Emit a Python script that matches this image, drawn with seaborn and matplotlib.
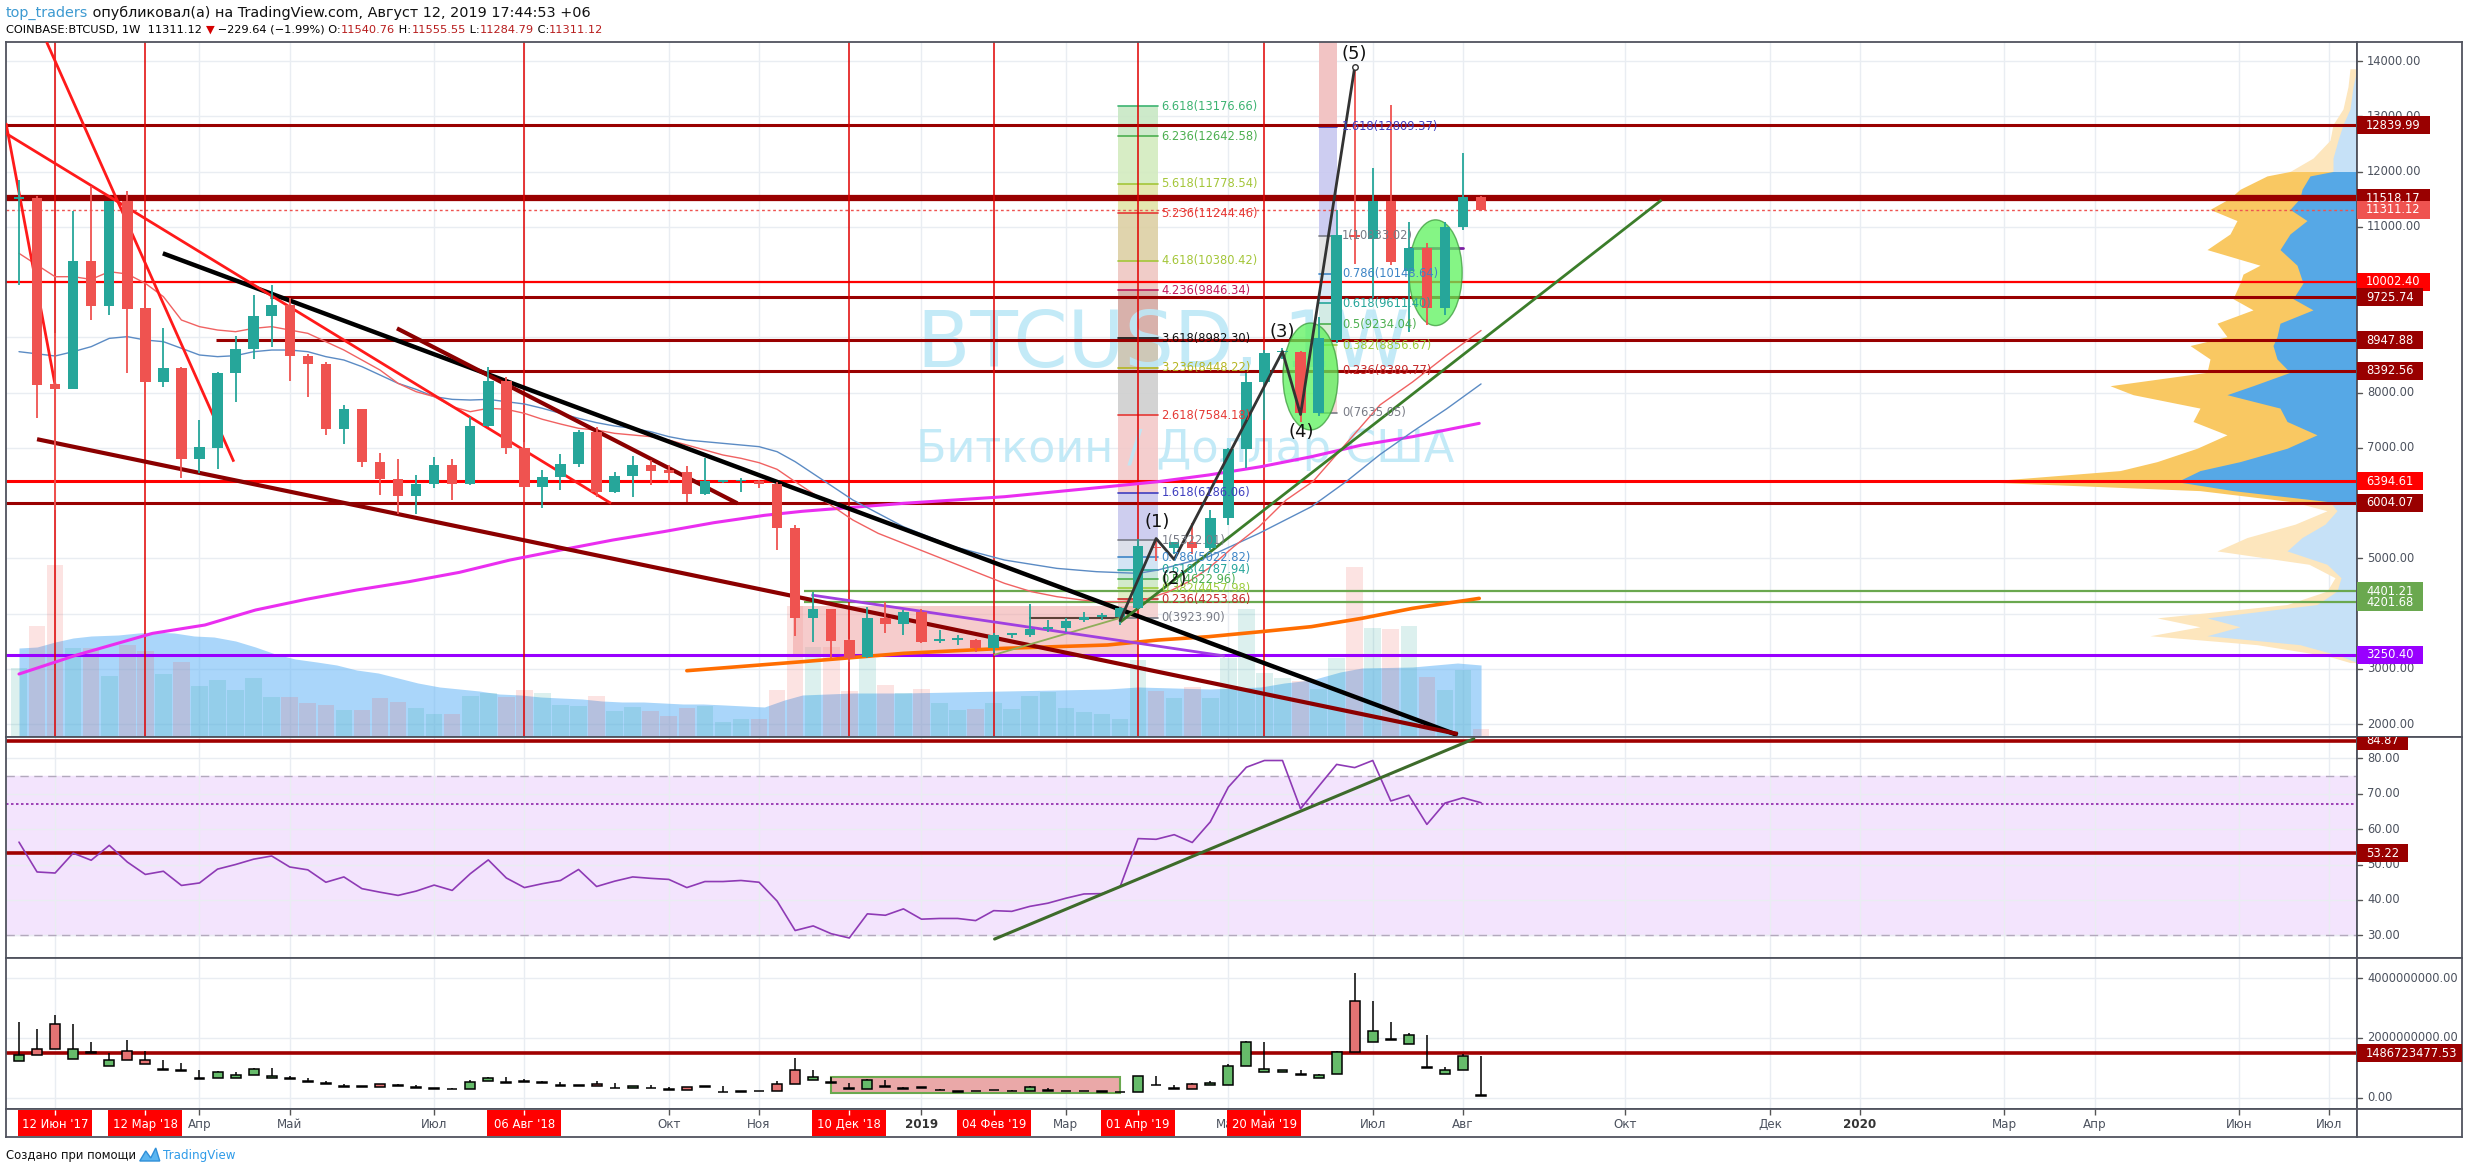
import numpy as np
import pandas as pd
import matplotlib
matplotlib.use("Agg")
import matplotlib.pyplot as plt
import matplotlib.transforms as mtrans
from matplotlib.patches import Rectangle, Ellipse, Polygon
import seaborn as sns

sns.set_theme(style="white")
plt.rcParams["font.family"] = ["DejaVu Sans"]
plt.rcParams["axes.unicode_minus"] = False

# ------------------------------------------------------------------ data
# weekly candles, index 0 = week of 22 Jan 2018 ... index 81 = 12 Aug 2019
opens = [11500, 11526, 8148, 8057, 10380, 9572, 11466, 9523, 8184, 8437,
         6790, 7002, 8359, 8781, 9385, 9584, 8667, 8510, 7333, 7695,
         6748, 6428, 6133, 6344, 6688, 6344, 7394, 8208, 7002, 6296,
         6465, 6700, 7291, 6205, 6489, 6688, 6597, 6567, 6157, 6387,
         6390, 6399, 6338, 5541, 3913, 4075, 3520, 3219, 3913, 3810,
         4021, 3510, 3520, 3520, 3370, 3611, 3611, 3713, 3743, 3882,
         3943, 3943, 4093, 5200, 5184, 5288, 5184, 5737, 6980, 8189,
         8730, 8742, 7636, 8949, 10849, 10779, 11470, 10193, 10607, 9536,
         10987, 11540.76]
highs = [11846, 11560, 9083, 11285, 11737, 11466, 11653, 9855, 9161, 8470,
         7502, 8380, 9022, 9765, 9946, 9704, 8700, 8560, 7774, 7710,
         6899, 6800, 6507, 6839, 6790, 7563, 8468, 8286, 7100, 6597,
         6887, 7321, 7382, 6567, 6851, 6778, 6688, 6670, 6809, 6416,
         6447, 6420, 6380, 5600, 4395, 4090, 3530, 4124, 4214, 4063,
         4081, 3701, 3611, 3530, 3641, 3653, 4172, 3882, 3912, 4033,
         4003, 4124, 5357, 5357, 5300, 5633, 5875, 7000, 8362, 8776,
         8800, 8760, 9363, 11298, 13888, 12057, 13197, 11090, 10710, 11090,
         12334, 11555.55]
lows = [9946, 7532, 5873, 8057, 9312, 9403, 8359, 7321, 8106, 6447,
        6537, 6609, 7822, 8600, 8830, 8214, 7925, 7231, 7068, 6658,
        6145, 5801, 5801, 6266, 6055, 6330, 7380, 6887, 6024, 5904,
        6236, 6658, 6115, 6175, 6115, 6326, 6368, 6024, 6140, 6356,
        6205, 6266, 5149, 3600, 3490, 3188, 3128, 3200, 3641, 3611,
        3472, 3472, 3430, 3309, 3279, 3550, 3569, 3671, 3671, 3852,
        3882, 3792, 4080, 4942, 5080, 5080, 5149, 5598, 6635, 7498,
        8600, 7464, 7567, 8900, 10330, 9709, 10300, 9087, 9225, 9398,
        10950, 11284.79]
closes = [11530, 8136, 8057, 10380, 9572, 11466, 9511, 8184, 8437, 6790,
          7020, 8359, 8781, 9385, 9584, 8667, 8510, 7333, 7695, 6748,
          6428, 6133, 6344, 6688, 6344, 7394, 8208, 7002, 6296, 6465,
          6700, 7291, 6205, 6489, 6688, 6585, 6549, 6157, 6399, 6395,
          6400, 6338, 5541, 3913, 4075, 3508, 3188, 3913, 3810, 4021,
          3490, 3530, 3526, 3370, 3611, 3620, 3713, 3761, 3870, 3943,
          3950, 4093, 5219, 5180, 5288, 5184, 5737, 6980, 8189, 8707,
          8745, 7636, 8983, 10849, 10813, 11470, 10365, 10607, 9536, 10987,
          11540, 11311.12]

# volume overlay in the price pane (relative units)
vol_main = [69, 111, 172, 89, 89, 61, 92, 86, 63, 75,
            51, 57, 47, 59, 40, 40, 34, 32, 27, 27,
            39, 35, 29, 23, 23, 41, 44, 40, 47, 44,
            32, 31, 41, 26, 30, 26, 21, 29, 31, 15,
            18, 18, 47, 131, 90, 90, 46, 79, 52, 44,
            48, 34, 27, 28, 34, 28, 41, 45, 29, 25,
            23, 18, 77, 46, 39, 50, 39, 79, 128, 64,
            59, 56, 48, 79, 170, 109, 108, 111, 60, 47,
            67, 8]
vma_x = [0, 1, 2, 3, 4, 5.5, 6.6, 7.4, 8.6, 9.7, 10.8, 12, 13.1, 14.2, 15.3,
         16.5, 17.6, 18.7, 19.9, 21, 22.1, 23.3, 24.4, 25.5, 26.6, 27.8, 28.9,
         30, 31.2, 32.3, 33.4, 34.6, 35.7, 36.8, 37.9, 39.1, 40.2, 41.3, 42.4,
         43.4, 46.2, 49, 51.8, 54.6, 57.5, 60.3, 62, 64, 66, 68.8, 70.1, 71.6,
         73.2, 74.4, 77.2, 79.7, 81]
vma_h = [89, 90, 95, 99, 101, 102, 104, 105, 104, 101, 100, 96, 90, 83, 78,
         75, 72, 67, 64, 59, 54, 50, 48, 46, 43, 42, 40, 39, 38, 36, 35, 35,
         34, 33, 33, 32, 31, 30, 37, 42, 44, 44, 45, 46, 47, 48, 50, 49, 48,
         50, 54, 57, 65, 69, 70, 74, 72]

# RSI
rsi = [56.3, 47.9, 47.6, 53.2, 51.2, 55.4, 50.7, 47.2, 48.1, 44.1,
       44.8, 48.7, 50.0, 51.5, 52.4, 49.3, 48.5, 45.0, 46.5, 43.2,
       42.2, 41.3, 42.5, 44.2, 42.7, 47.4, 51.3, 46.2, 43.5, 44.6,
       45.5, 48.6, 43.8, 45.3, 46.5, 46.1, 45.8, 43.5, 45.2, 45.2,
       45.5, 45.0, 39.7, 31.4, 32.7, 30.5, 29.3, 36.1, 35.7, 37.5,
       34.6, 34.8, 34.8, 34.2, 37.0, 36.8, 38.2, 39.1, 40.5, 41.7,
       41.8, 43.7, 57.3, 57.1, 58.4, 56.2, 62.0, 71.8, 77.4, 79.3,
       79.3, 65.7, 72.0, 78.2, 77.3, 79.3, 67.9, 69.5, 61.3, 67.3,
       68.8, 67.4]

# volume candles (billions)
vol_o = [1.22, 1.62, 2.46, 1.29, 1.52, 1.06, 1.58, 1.26, 0.94, 0.91,
         0.64, 0.66, 0.66, 0.76, 0.66, 0.64, 0.54, 0.46, 0.38, 0.36,
         0.46, 0.41, 0.34, 0.31, 0.29, 0.29, 0.56, 0.50, 0.54, 0.50,
         0.41, 0.41, 0.48, 0.32, 0.32, 0.32, 0.27, 0.36, 0.37, 0.19,
         0.21, 0.22, 0.47, 0.92, 0.59, 0.51, 0.31, 0.31, 0.38, 0.31,
         0.33, 0.25, 0.21, 0.22, 0.25, 0.22, 0.23, 0.23, 0.22, 0.22,
         0.20, 0.19, 0.20, 0.42, 0.30, 0.48, 0.43, 0.42, 1.06, 0.86,
         0.86, 0.78, 0.67, 0.79, 3.22, 1.86, 1.94, 1.79, 1.01, 0.79,
         0.92, 0.08]
vol_h = [2.53, 2.29, 2.78, 2.47, 1.87, 1.50, 1.92, 1.58, 1.26, 1.16,
         0.92, 0.89, 0.86, 1.00, 1.00, 0.72, 0.66, 0.57, 0.48, 0.40,
         0.46, 0.46, 0.42, 0.33, 0.33, 0.59, 0.70, 0.70, 0.64, 0.57,
         0.53, 0.43, 0.57, 0.50, 0.40, 0.42, 0.35, 0.36, 0.39, 0.39,
         0.23, 0.24, 0.56, 1.33, 0.92, 0.70, 0.50, 0.62, 0.59, 0.36,
         0.38, 0.30, 0.24, 0.24, 0.26, 0.25, 0.39, 0.34, 0.23, 0.23,
         0.21, 0.20, 0.74, 0.72, 0.42, 0.50, 0.56, 1.13, 1.89, 1.87,
         0.94, 0.92, 0.80, 1.55, 4.17, 3.23, 2.53, 2.18, 2.09, 1.03,
         1.48, 1.39]
vol_l = [1.22, 1.42, 1.62, 1.29, 1.50, 1.06, 1.26, 1.12, 0.94, 0.91,
         0.64, 0.66, 0.66, 0.76, 0.66, 0.64, 0.54, 0.46, 0.38, 0.36,
         0.36, 0.41, 0.34, 0.31, 0.29, 0.29, 0.56, 0.50, 0.54, 0.50,
         0.41, 0.41, 0.41, 0.32, 0.32, 0.32, 0.27, 0.27, 0.37, 0.19,
         0.21, 0.22, 0.23, 0.48, 0.59, 0.51, 0.31, 0.31, 0.38, 0.31,
         0.33, 0.25, 0.21, 0.22, 0.25, 0.22, 0.23, 0.23, 0.22, 0.22,
         0.20, 0.19, 0.20, 0.42, 0.30, 0.29, 0.43, 0.42, 1.06, 0.86,
         0.86, 0.78, 0.67, 0.79, 1.53, 1.86, 1.94, 1.79, 1.01, 0.79,
         0.92, 0.06]
vol_c = [1.42, 1.42, 1.62, 1.62, 1.50, 1.26, 1.26, 1.12, 0.95, 0.92,
         0.65, 0.86, 0.76, 0.98, 0.72, 0.65, 0.55, 0.47, 0.39, 0.37,
         0.36, 0.42, 0.35, 0.32, 0.30, 0.53, 0.68, 0.51, 0.55, 0.51,
         0.42, 0.42, 0.41, 0.33, 0.40, 0.33, 0.28, 0.27, 0.38, 0.20,
         0.22, 0.23, 0.23, 0.48, 0.69, 0.52, 0.32, 0.59, 0.39, 0.32,
         0.34, 0.26, 0.22, 0.23, 0.26, 0.23, 0.37, 0.24, 0.22, 0.22,
         0.21, 0.20, 0.72, 0.43, 0.31, 0.29, 0.51, 1.06, 1.87, 0.98,
         0.92, 0.79, 0.78, 1.53, 1.53, 2.22, 1.95, 2.09, 1.02, 0.92,
         1.39, 0.07]

# moving averages (index, price)
red_ma = [(0, 10519), (2, 10096), (3, 10096), (4, 10048), (5, 10187), (6, 10145), (7, 9976),
          (8, 9735), (9, 9312), (10, 9192), (11, 9131), (12, 9101), (13, 9161), (14, 9192),
          (15, 9131), (16, 9071), (17, 8920), (18, 8769), (19, 8588), (20, 8407), (21, 8166),
          (22, 8015), (23, 7925), (24, 7744), (25, 7653), (26, 7714), (27, 7696), (28, 7623),
          (29, 7515), (30, 7430), (31, 7352), (32, 7321), (33, 7261), (34, 7231), (35, 7201),
          (36, 7140), (37, 7050), (38, 6959), (39, 6869), (40, 6809), (41, 6730), (42, 6610),
          (43, 6386), (45.1, 5934), (46.2, 5692), (47.6, 5451), (49, 5270), (50.4, 5089),
          (51.8, 4908), (53.2, 4727), (54.6, 4546), (56.1, 4395), (57.5, 4305), (58.9, 4244),
          (60, 4214), (61.1, 4214), (62.3, 4244), (63.7, 4395), (64.8, 4576), (65.9, 4817),
          (67.3, 5210), (68.7, 5571), (70.2, 6054), (71.7, 6393), (73.55, 7084), (75.4, 7775),
          (77.2, 8189), (79.1, 8673), (81, 9122)]
blue_ma = [(0, 8739), (2, 8661), (3, 8739), (4, 8830), (5, 8980), (6, 9011), (7, 8950),
           (8, 8920), (9, 8800), (10, 8679), (11, 8649), (12, 8667), (13, 8739), (14, 8769),
           (15, 8769), (16, 8739), (17, 8649), (18, 8588), (19, 8468), (20, 8317), (21, 8166),
           (22, 8057), (23, 7925), (24, 7876), (25, 7864), (26, 7876), (27, 7834), (28, 7792),
           (29, 7714), (30, 7623), (31, 7533), (32, 7454), (33, 7394), (34, 7351), (35, 7291),
           (36, 7201), (37, 7140), (38, 7110), (39, 7080), (40, 7050), (41, 7020), (42, 6929),
           (43, 6748), (46.2, 6054), (49, 5571), (51.8, 5210), (54.6, 4968), (57.5, 4817),
           (59.7, 4757), (62, 4727), (63.1, 4787), (65.9, 5028), (68.7, 5451), (71.6, 5933),
           (73.55, 6393), (75.4, 6877), (77.2, 7291), (79.1, 7706), (81, 8155)]
magenta_ma = [(0, 2905), (3.2, 3249), (7.4, 3641), (10.3, 3792), (13.1, 4063), (15.9, 4256),
              (18.7, 4425), (21.6, 4576), (24.4, 4745), (27.2, 4968), (30, 5149), (32.9, 5330),
              (35.7, 5481), (38.5, 5644), (41.3, 5777), (43.4, 5850), (49, 5994), (54.6, 6114),
              (60.3, 6295), (63.1, 6386), (65.9, 6507), (68.8, 6657), (71.6, 6838), (74.4, 7050),
              (77.2, 7200), (80.9, 7442)]
orange_ma = [(37, 2965), (43.4, 3128), (49, 3279), (54.6, 3370), (60.3, 3430), (63.1, 3520),
             (65.9, 3581), (68.8, 3671), (71.6, 3762), (74.4, 3913), (77.2, 4093), (80.9, 4274)]

# drawn trend lines (index, price)
trend_black = [(7.97, 10519), (79.7, 1800)]
trend_maroon_long = [(1.0, 7155), (79.7, 1820)]
trend_maroon_short = [(20.94, 9161), (39.8, 5994)]
trend_red_a = [(-0.72, 12689), (32.8, 5994)]
trend_red_b = [(1.53, 14344), (11.9, 6748)]
trend_red_c = [(-0.72, 12877), (2.0, 8136)]
trend_green = [(61.0, 3842), (91.0, 11484)]
trend_olive = [(54.0, 3250), (61.1, 3930)]
trend_purple = [(43.9, 4335), (66.8, 3231)]
rsi_trend = [(54.05, 29.0), (80.6, 85.4)]

wave_x = [61.0, 63.0, 64.0, 70.0, 71.0, 74.0]
wave_y = [3871, 5357, 4977, 8742, 7602, 13888]
wave_labels = ["(1)", "(2)", "(3)", "(4)", "(5)"]
wave_label_x = [63.07, 64.0, 70.0, 71.06, 74.0]
wave_label_y = [5650, 4630, 9090, 7290, 14130]

# horizontal levels
hl_price = [12839.99, 11518.17, 10002.40, 9725.74, 8947.88, 8392.56, 6394.61, 6004.07,
            4401.21, 4201.68, 3250.40]
hl_color = ['#990000', '#990000', '#ff0000', '#990000', '#990000', '#990000', '#ff0000',
            '#990000', '#6aa84f', '#6aa84f', '#9900ff']
hl_width = [2.2, 4.5, 1.6, 2.2, 2.2, 2.2, 2.2, 2.2, 1.6, 1.6, 2.2]
hl_start = [-0.72, -0.72, -0.72, 13.9, 10.9, 26.0, -0.72, -0.72, 43.5, 43.5, -0.72]
last_price = 11311.12

# fib extension 1
fib1_levels = [3923.90, 4253.86, 4457.98, 4622.96, 4787.94, 5022.82, 5322.01, 6186.06, 7584.18,
               8448.22, 8982.30, 9846.34, 10380.42, 11244.46, 11778.54, 12642.58, 13176.66]
fib1_ratios = ['0', '0.236', '0.382', '0.5', '0.618', '0.786', '1', '1.618', '2.618', '3.236',
               '3.618', '4.236', '4.618', '5.236', '5.618', '6.236', '6.618']
fib1_colors = ['#787b86', '#c62828', '#9ccc3c', '#4caf50', '#26a69a', '#3d85c6', '#787b86',
               '#3f3fbf', '#e53935', '#b5b520', '#111111', '#c2185b', '#a4c639', '#e53935',
               '#a4c639', '#4caf50', '#3cb371']
fib1_bands = ['#f4d0cf', '#dcebc0', '#cde8c5', '#c4e3da', '#cfe2f3', '#d9dde8', '#c9c9ee',
              '#f3c9c9', '#cfcfcf', '#c9c2b0', '#d4a9a2', '#efc7c2', '#ddd0a4', '#e2e5a8',
              '#d3ebbf', '#c8e8c5']
# fib retracement 2
fib2_levels = [7635.05, 8389.77, 8856.67, 9234.04, 9611.40, 10148.64, 10833.02, 12809.37]
fib2_ratios = ['0', '0.236', '0.382', '0.5', '0.618', '0.786', '1', '1.618']
fib2_colors = ['#787b86', '#c62828', '#9ccc3c', '#4caf50', '#26a69a', '#3d85c6', '#787b86',
               '#3f3fbf']
fib2_bands = ['#f6d5d5', '#e6efc8', '#d5ecd0', '#cfe9e3', '#d6e6f5', '#e3e3e3', '#c8c8f0']

# volume profile (price, total, blue part) in relative units
vp_price = [13859, 13536, 13132, 12849, 12566, 12243, 12001, 11920, 11678, 11516, 11314, 11112,
            10870, 10587, 10304, 10143, 9981, 9698, 9496, 9254, 9011, 8850, 8607, 8365, 8123,
            7961, 7718, 7476, 7234, 6991, 6749, 6587, 6385, 6224, 6022, 5860, 5617, 5375, 5133,
            4891, 4648, 4406, 4163, 3921, 3760, 3598, 3436, 3234, 3113]
vp_total = [7, 9, 14, 24, 27, 44, 67, 90, 117, 127, 147, 120, 127, 150, 97, 114, 117, 124, 104,
            140, 130, 167, 147, 150, 247, 224, 157, 164, 130, 160, 200, 237, 377, 157, 64, 30,
            62, 110, 140, 48, 22, 30, 70, 200, 157, 207, 100, 30, 7]
vp_blue = [0, 4, 7, 14, 19, 24, 24, 47, 55, 57, 67, 50, 67, 77, 60, 57, 54, 64, 44, 77, 80, 84,
           80, 67, 104, 130, 77, 70, 40, 70, 117, 157, 180, 124, 27, 20, 32, 55, 70, 30, 16, 20,
           40, 150, 117, 150, 57, 17, 0]
va_low, va_high = 5990, 12000

# axes labels
grid_ticks = [2, 10, 15, 23, 28, 36, 41, 50, 58, 67, 75, 80, 89, 97, 102, 110, 115, 123, 128]
month_ticks = [10, 15, 23, 36, 41, 50, 58, 67, 75, 80, 89, 97, 102, 110, 115, 123, 128]
month_labels = ['Апр', 'Май', 'Июл', 'Окт', 'Ноя', '2019', 'Мар', 'Май', 'Июл',
                'Авг', 'Окт', 'Дек', '2020', 'Мар', 'Апр', 'Июн', 'Июл']
mark_idx = [2, 7, 28, 46, 54, 62, 69]
mark_labels = ["12 Июн '17", "12 Мар '18", "06 Авг '18", "10 Дек '18", "04 Фев '19",
               "01 Апр '19", "20 Май '19"]
price_ticks = [2000, 3000, 5000, 6000, 7000, 8000, 9000, 10000, 11000, 12000, 13000, 14000]
price_marks = [12839.99, 11518.17, 11311.12, 10002.40, 9725.74, 8947.88, 8392.56, 6394.61,
               6004.07, 4401.21, 4201.68, 3250.40]
price_mark_colors = ['#990000', '#990000', '#ef5350', '#ff0000', '#990000', '#990000', '#990000',
                     '#ff0000', '#990000', '#6aa84f', '#6aa84f', '#9900ff']
rsi_ticks = [30, 40, 50, 60, 70, 80]
rsi_marks = [84.87, 53.22]
vol_ticks = [0, 2, 4]
vol_mark = 1.48672347753

# ------------------------------------------------------------------ figure
W, H = 2468, 1174
fig = plt.figure(figsize=(W / 100, H / 100), dpi=100)
fig.patch.set_facecolor("white")
BORDER = '#50535e'
GRID = '#e9edf2'
TXT = '#4c525e'
UP, DN = '#26a69a', '#ef5350'


def px_axes(x0, y0, x1, y1):
    return fig.add_axes([x0 / W, 1 - y1 / H, (x1 - x0) / W, (y1 - y0) / H])


L, R = 6, 2357
ax = px_axes(L, 42, R, 737)
ax_r = px_axes(L, 737, R, 958)
ax_v = px_axes(L, 958, R, 1109)
ax_t = px_axes(L, 1109, R, 1137)
XL = (-0.72, 129.53)
PLIM = (1765, 14344)
RLIM = (23.66, 85.92)
VLIM = (-0.367, 4.667)
for a in (ax, ax_r, ax_v, ax_t):
    a.set_facecolor('white')
    for s in a.spines.values():
        s.set_color(BORDER)
        s.set_linewidth(1.3)

idx = np.arange(len(closes))

# ---------------- grid
for a in (ax, ax_r, ax_v):
    for g in grid_ticks:
        a.axvline(g, color=GRID, lw=1, zorder=0.2)
for p in range(2000, 15000, 1000):
    ax.axhline(p, color=GRID, lw=1, zorder=0.2)
for r in rsi_ticks:
    ax_r.axhline(r, color=GRID, lw=1, zorder=0.2)
for v in vol_ticks:
    ax_v.axhline(v, color=GRID, lw=1, zorder=0.2)

# ---------------- main: volume overlay
PANE_H = 695.0
blend_xy = mtrans.blended_transform_factory(ax.transData, ax.transAxes)
ax.fill_between(vma_x, 0, np.array(vma_h) / PANE_H, transform=blend_xy,
                color='#64b5f6', alpha=0.55, lw=0, zorder=0.9)
vcols = [UP if c >= o else DN for o, c in zip(opens, closes)]
ax.bar(idx, np.array(vol_main) / PANE_H, width=0.92, bottom=0, color=vcols, alpha=0.16,
       transform=blend_xy, zorder=1.0, linewidth=0)

# ---------------- volume profile
blend_yx = mtrans.blended_transform_factory(ax.transAxes, ax.transData)
PW = float(R - L)
vp_p = np.array(vp_price, float)[::-1]
vp_t = np.array(vp_total, float)[::-1]
vp_b = np.array(vp_blue, float)[::-1]
fine = np.sort(np.unique(np.concatenate([vp_p, [va_low, va_high]])))
ft = np.interp(fine, vp_p, vp_t)
fb = np.interp(fine, vp_p, vp_b)
in_va = (fine >= va_low) & (fine <= va_high)
out_lo = fine <= va_low
out_hi = fine >= va_high
for mask, cy, cb in [(out_lo, '#fde6bd', '#c6e1f7'), (out_hi, '#fde6bd', '#c6e1f7'),
                     (in_va, '#f9c862', '#56a8e6')]:
    ax.fill_betweenx(fine[mask], 1 - ft[mask] / PW, 1, transform=blend_yx, color=cy, lw=0,
                     zorder=1.7)
    ax.fill_betweenx(fine[mask], 1 - fb[mask] / PW, 1, transform=blend_yx, color=cb, lw=0,
                     zorder=1.75)

# ---------------- fib columns
for i, c in enumerate(fib1_bands):
    ax.add_patch(Rectangle((60.9, fib1_levels[i]), 2.2, fib1_levels[i + 1] - fib1_levels[i],
                           fc=c, ec='none', alpha=0.9, zorder=1.5))
for v, r, c in zip(fib1_levels, fib1_ratios, fib1_colors):
    ax.plot([60.9, 63.1], [v, v], color=c, lw=1.2, zorder=1.6)
    ax.text(63.3, v, f"{r}({v:.2f})", color=c, fontsize=8.3, va='center', ha='left', zorder=6)
ax.add_patch(Rectangle((72.0, fib2_levels[-1]), 1.0, PLIM[1] - fib2_levels[-1], fc='#f2c4c4',
                       ec='none', zorder=1.5))
for i, c in enumerate(fib2_bands):
    ax.add_patch(Rectangle((72.0, fib2_levels[i]), 1.0, fib2_levels[i + 1] - fib2_levels[i],
                           fc=c, ec='none', alpha=0.9, zorder=1.5))
for v, r, c in zip(fib2_levels, fib2_ratios, fib2_colors):
    ax.plot([72.0, 73.0], [v, v], color=c, lw=1.2, zorder=1.6)
    ax.text(73.3, v, f"{r}({v:.2f})", color=c, fontsize=8.3, va='center', ha='left', zorder=6)

# pink range box
ax.add_patch(Rectangle((42.9, 3250), 19.1, 880, fc='#ef9a9a', ec='none', alpha=0.5, zorder=1.55))
ax.plot([56, 61], [3923.9, 3923.9], color='#5d4037', lw=1.5, zorder=2)

# watermark
ax.text(63.4, 8860, "BTCUSD, 1W", fontsize=56, color='#bde8f7', ha='center', va='center',
        zorder=1.58, alpha=0.9)
ax.text(64.6, 6977, "Биткоин / Доллар США", fontsize=32, color='#bde8f7', ha='center',
        va='center', zorder=1.58, alpha=0.9)

# ---------------- horizontal levels & vertical markers
for p, c, w, s in zip(hl_price, hl_color, hl_width, hl_start):
    ax.plot([s, XL[1]], [p, p], color=c, lw=w, zorder=2, solid_capstyle='butt')
ax.axhline(last_price, color='#ef5350', lw=1, ls=(0, (2, 2)), zorder=2)
ax.plot([77.0, 80.0], [10621, 10621], color='#7b1fa2', lw=2, zorder=2)
for m in mark_idx:
    ax.axvline(m, color='#e00000', lw=1.1, zorder=2)

# ---------------- moving averages (seaborn)
for pts, col, lw in [(magenta_ma, '#ea2ef0', 2.2), (orange_ma, '#ff6d00', 2.6),
                     (blue_ma, '#5b8bc4', 1.0), (red_ma, '#f06262', 1.0)]:
    xs, ys = zip(*pts)
    sns.lineplot(x=list(xs), y=list(ys), ax=ax, color=col, linewidth=lw, zorder=2.5,
                 legend=False)

# ---------------- trend lines
for pts, col, lw in [(trend_black, '#000000', 3.2), (trend_maroon_long, '#8b0000', 3.0),
                     (trend_maroon_short, '#8b0000', 3.0), (trend_red_a, '#ff1a1a', 2.0),
                     (trend_red_b, '#ff1a1a', 2.0), (trend_red_c, '#ff1a1a', 2.0),
                     (trend_green, '#3b7d2a', 2.0), (trend_olive, '#8fae5a', 1.3),
                     (trend_purple, '#a040e0', 2.0)]:
    xs, ys = zip(*pts)
    ax.plot(xs, ys, color=col, lw=lw, zorder=3, solid_capstyle='butt')

# ---------------- ellipses
for cx, cy, ew, eh in [(71.55, 8290, 3.05, 1935), (78.48, 10168, 2.95, 1914)]:
    ax.add_patch(Ellipse((cx, cy), ew, eh, fc='#5cf25c', ec='#3c9a3c', lw=1, alpha=0.75,
                         zorder=3.2))

# ---------------- candles
ccols = np.array([UP if c >= o else DN for o, c in zip(opens, closes)])
ax.vlines(idx, lows, highs, colors=ccols, lw=1.3, zorder=4)
bot = np.minimum(opens, closes)
hgt = np.maximum(np.abs(np.array(closes) - np.array(opens)), 30)
ax.bar(idx, hgt, width=0.58, bottom=bot, color=ccols, linewidth=0, zorder=4.1)

# ---------------- Elliott wave
sns.lineplot(x=wave_x, y=wave_y, ax=ax, sort=False, color='#333333', linewidth=2.0, zorder=5,
             legend=False)
ax.plot([wave_x[-1]], [wave_y[-1]], marker='o', ms=4, mfc='white', mec='#333', zorder=5.1)
for t, x, y in zip(wave_labels, wave_label_x, wave_label_y):
    ax.text(x, y, t, fontsize=13, color='#111', ha='center', va='center', zorder=6)

# ---------------- RSI pane
ax_r.axhspan(30, 75, color='#f3e4fd', zorder=0.1)
for lvl in (30, 75):
    ax_r.axhline(lvl, color='#b3a9bd', lw=1, ls=(0, (6, 4)), zorder=0.5)
ax_r.axhline(67, color='#8e24aa', lw=1.2, ls=(0, (1.5, 1.5)), zorder=0.6)
for m in rsi_marks:
    ax_r.axhline(m, color='#a00000', lw=2.6, zorder=1)
sns.lineplot(x=idx, y=rsi, ax=ax_r, color='#8e3ab5', linewidth=1.2, zorder=2, legend=False)
xs, ys = zip(*rsi_trend)
ax_r.plot(xs, ys, color='#3d6b2a', lw=2.2, zorder=3)

# ---------------- volume candles pane
ax_v.add_patch(Rectangle((45, 0.17), 16, 0.53, fc='#eaa8a8', ec='#6aa84f', lw=1.5, zorder=0.8))
ax_v.axhline(vol_mark, color='#a00000', lw=2.6, zorder=1)
vcc = np.array(['#66bb6a' if c >= o else '#e57373' for o, c in zip(vol_o, vol_c)])
ax_v.vlines(idx, vol_l, vol_h, colors='black', lw=1.1, zorder=2)
vb = np.minimum(vol_o, vol_c)
vh = np.maximum(np.abs(np.array(vol_c) - np.array(vol_o)), 0.025)
ax_v.bar(idx, vh, width=0.55, bottom=vb, color=vcc, edgecolor='black', linewidth=1.1, zorder=3)

# ---------------- limits & ticks
for a in (ax, ax_r, ax_v, ax_t):
    a.set_xlim(*XL)
    a.set_xticks([])
    a.set_yticks([])
    a.set_xlabel('')
    a.set_ylabel('')
ax.set_ylim(*PLIM)
ax_r.set_ylim(*RLIM)
ax_v.set_ylim(*VLIM)
ax_t.set_ylim(0, 1)

# time axis strip
ax_t.vlines(month_ticks, 0.8, 1.0, color='#555', lw=1)
for t, lab in zip(month_ticks, month_labels):
    bold = lab in ('2019', '2020')
    ax_t.text(t, 0.45, lab, ha='center', va='center', fontsize=8.6, color='#333' if bold else TXT,
              fontweight='bold' if bold else 'normal', zorder=2)
for m, lab in zip(mark_idx, mark_labels):
    ax_t.add_patch(Rectangle((m - 2.05, 0.04), 4.1, 0.92, fc='#ff0000', ec='none', zorder=3,
                             clip_on=True))
    ax_t.vlines([m], 0.8, 0.96, color='white', lw=1, zorder=3.5)
    ax_t.text(m, 0.45, lab, ha='center', va='center', fontsize=8.4, color='white', zorder=4,
              clip_on=True)


# ---------------- right price strips
def right_strip(y0, y1, ylim):
    a = px_axes(R, y0, 2462, y1)
    a.set_xlim(0, 105)
    a.set_ylim(*ylim)
    a.set_xticks([])
    a.set_yticks([])
    a.set_facecolor('white')
    for s in a.spines.values():
        s.set_color(BORDER)
        s.set_linewidth(1.3)
    return a


def strip_labels(a, ticks, fmt, marks, mcols, half):
    for t in ticks:
        a.plot([0, 5], [t, t], color='#555', lw=1, clip_on=True)
        a.text(10, t, fmt(t), color=TXT, fontsize=8.3, va='center', ha='left', clip_on=True,
               zorder=2)
    for m, c in zip(marks, mcols):
        s = fmt(m)
        w = 14 + 7.4 * len(s)
        a.add_patch(Rectangle((0, m - half), w, 2 * half, fc=c, ec='none', zorder=4,
                              clip_on=True))
        a.text(9, m, s, color='white', fontsize=8.3, va='center', ha='left', zorder=5,
               clip_on=True)


ap = right_strip(42, 737, PLIM)
strip_labels(ap, price_ticks, lambda v: f"{v:.2f}", price_marks, price_mark_colors, 9 / 0.05525)
ar = right_strip(737, 958, RLIM)
strip_labels(ar, rsi_ticks, lambda v: f"{v:.2f}", rsi_marks, ['#990000', '#990000'], 9 / 3.55)
av = right_strip(958, 1109, VLIM)
strip_labels(av, vol_ticks, lambda v: f"{v * 1e9:.2f}", [vol_mark], ['#990000'], 9 / 30.0)
right_strip(1109, 1137, (0, 1))

# ---------------- header & footer
renderer = fig.canvas.get_renderer()


def seq_text(x_px, y_px, parts, size, family=None, target=None):
    fam = family or ['DejaVu Sans']
    if target is not None:
        total = 0.0
        for txt, col, wt in parts:
            t = fig.text(0, 0, txt, fontsize=size, fontweight=wt, family=fam)
            total += t.get_window_extent(renderer=renderer).width
            t.remove()
        size = size * target / total
    x = x_px
    for txt, col, wt in parts:
        t = fig.text(x / W, 1 - y_px / H, txt, color=col, fontsize=size, fontweight=wt,
                     family=fam, ha='left', va='center')
        x += t.get_window_extent(renderer=renderer).width
    return x


seq_text(6, 13, [("top_traders", '#3d9ad1', 'normal'),
                 (" опубликовал(а) на TradingView.com, Август 12, 2019 17:44:53 +06", '#111',
                  'normal')], 10.0, target=585)
dark_red = '#b71c1c'
seq_text(6, 30, [("COINBASE:BTCUSD, 1W  11311.12 ", '#000', 'normal'),
                 ("▼", '#d50000', 'normal'),
                 (" −229.64 (−1.99%) O:", '#000', 'normal'),
                 ("11540.76", dark_red, 'normal'), (" H:", '#000', 'normal'),
                 ("11555.55", dark_red, 'normal'), (" L:", '#000', 'normal'),
                 ("11284.79", dark_red, 'normal'), (" C:", '#000', 'normal'),
                 ("11311.12", dark_red, 'normal')], 9.0, target=600)

xe = seq_text(6, 1156, [("Создано при помощи ", '#111', 'normal')], 8.4)
logo = Polygon([[xe / W, 1 - 1161 / H], [(xe + 6) / W, 1 - 1151 / H],
                [(xe + 11) / W, 1 - 1158 / H], [(xe + 16) / W, 1 - 1148 / H],
                [(xe + 20) / W, 1 - 1161 / H]], closed=True, transform=fig.transFigure,
               fc='#5bb5f0', ec='#2f8fd8', lw=1)
fig.add_artist(logo)
seq_text(xe + 23, 1156, [("TradingView", '#2f9be8', 'normal')], 8.6)

fig.savefig("out.png", dpi=100, facecolor='white')
